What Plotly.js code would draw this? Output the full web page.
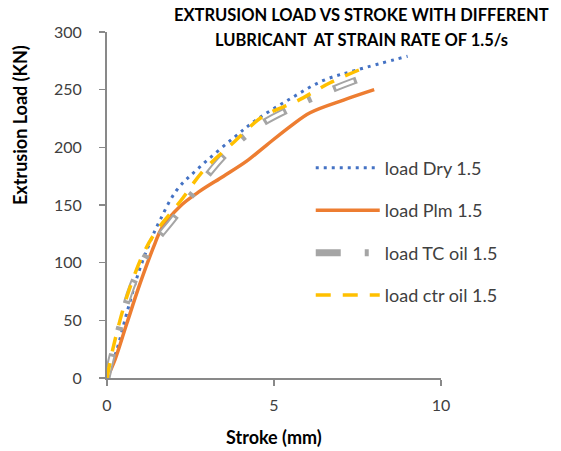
<!DOCTYPE html>
<html><head><meta charset="utf-8">
<script src="https://cdn.plot.ly/plotly-3.0.1.min.js"></script>
<style>html,body{margin:0;padding:0;background:#fff}#chart{width:561px;height:451px}</style>
</head><body><div id="chart"></div>
<script>
const dryX = [0,0.29,0.59,0.94,1.29,1.59,2.09,2.78,3.78,4.48,5.48,6.48,7.47,9.0];
const dryY = [0,24,56,91,118,137,163,183,208,224,242,258,267,279];
const plmX = [0,0.24,0.59,0.99,1.44,1.64,2.19,2.78,3.49,4.18,4.78,5.48,6.08,7.08,8.0];
const plmY = [0,16,47,82,117,130,149,162,175,188,202,218,230,241,250];
const tcX = [0,0.14,0.37,0.74,1.27,1.99,2.76,3.58,4.5,5.58,6.72,8.0];
const tcY = [0,18,43,79,111,138,167,195,218,235,250,264];
const ctrX = [0,0.19,0.59,1.09,1.49,2.19,2.89,3.78,4.68,5.68,6.68,7.87];
const ctrY = [0,27,70,108,128,153,180,204,227,240,256,271];
const names = ['load Dry 1.5','load Plm 1.5','load TC oil 1.5','load ctr oil 1.5'];
const xTicks = [0,5,10];
const yTicks = [0,50,100,150,200,250,300];
const titleLines = ['EXTRUSION LOAD VS STROKE WITH DIFFERENT','LUBRICANT  AT STRAIN RATE OF 1.5/s'];
const xTitle = 'Stroke (mm)';
const yTitle = 'Extrusion Load (KN)';

const F = 'Lato, "Open Sans", sans-serif';
const traces = [
  {x: dryX, y: dryY, name: names[0], mode:'lines', line:{color:'#4472C4', width:3, dash:'3px,5px', shape:'spline'}, legendgroup:'a'},
  {x: plmX, y: plmY, name: names[1], mode:'lines', line:{color:'#ED7D31', width:3.5, shape:'spline'}, legendgroup:'b'},
  {x: tcX, y: tcY, name: names[2], mode:'lines', line:{color:'#A5A5A5', width:7, dash:'25px,24px,4px,24px', shape:'spline'}, legendgroup:'c'},
  {x: tcX, y: tcY, name: names[2], showlegend:false, hoverinfo:'skip', mode:'lines', line:{color:'#FFFFFF', width:3, dash:'0.01px,3px,19px,54.99px', shape:'spline'}, legendgroup:'c'},
  {x: ctrX, y: ctrY, name: names[3], mode:'lines', line:{color:'#FFC000', width:3.5, dash:'15px,12px', shape:'spline'}, legendgroup:'d'}
];
const layout = {
  width:561, height:451,
  margin:{l:107, r:120, t:32, b:73},
  paper_bgcolor:'#fff', plot_bgcolor:'#fff',
  font:{family:F, size:16, color:'#404040'},
  showlegend:true,
  xaxis:{range:[0,10], tickvals:xTicks, ticks:'outside', ticklen:6, tickcolor:'#898989', tickwidth:1.5,
    showline:true, linecolor:'#898989', linewidth:2, showgrid:false, zeroline:false,
    ticklabelstandoff:6,
    tickfont:{family:F, size:16, color:'#404040'}},
  yaxis:{range:[0,300], tickvals:yTicks, ticks:'outside', ticklen:6, tickcolor:'#898989', tickwidth:1.5,
    showline:true, linecolor:'#898989', linewidth:2, showgrid:false, zeroline:false,
    ticklabelstandoff:14,
    tickfont:{family:F, size:16, color:'#404040'}},
  annotations:[
    {text:'<b>'+titleLines[0]+'</b>', xref:'paper', yref:'paper', x:0.763, y:(378-15)/346, xanchor:'center', yanchor:'middle', showarrow:false, font:{family:F, size:16.5, color:'#000'}},
    {text:'<b>'+titleLines[1]+'</b>', xref:'paper', yref:'paper', x:0.763, y:(378-40)/346, xanchor:'center', yanchor:'middle', showarrow:false, font:{family:F, size:16.5, color:'#000'}},
    {text:'<b>'+xTitle+'</b>', xref:'paper', yref:'paper', x:0.5, y:(378-437)/346, xanchor:'center', yanchor:'middle', showarrow:false, font:{family:F, size:18, color:'#000'}},
    {text:'<b>'+yTitle+'</b>', xref:'paper', yref:'paper', x:(20-107)/334, y:(378-125)/346, xanchor:'center', yanchor:'middle', textangle:-90, showarrow:false, font:{family:F, size:18, color:'#000'}}
  ],
  legend:{x:0.61, y:0.66, xanchor:'left', yanchor:'top', bgcolor:'rgba(0,0,0,0)',
    font:{family:F, size:18, color:'#404040'}, tracegroupgap:16, itemwidth:64, traceorder:'grouped'}
};
Plotly.newPlot('chart', traces, layout, {displayModeBar:false, staticPlot:true});
</script></body></html>
